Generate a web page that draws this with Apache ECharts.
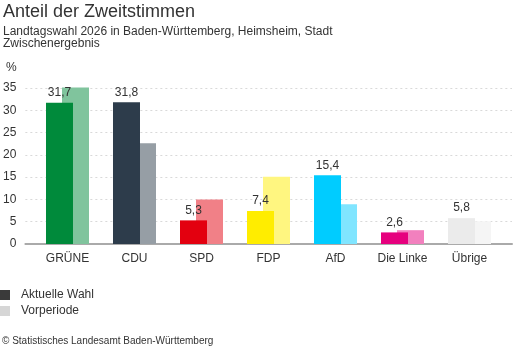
<!DOCTYPE html>
<html><head><meta charset="utf-8">
<script src="https://cdn.jsdelivr.net/npm/echarts@6/dist/echarts.min.js"></script>
<style>html,body{margin:0;padding:0;background:#fff}#c{width:513px;height:352px}</style>
</head><body><div id="c"></div>
<script>
const categories = ['GRÜNE','CDU','SPD','FDP','AfD','Die Linke','Übrige'];
const currentValues = [31.7, 31.8, 5.3, 7.4, 15.4, 2.6, 5.8];
const previousValues = [35.1, 22.6, 10.0, 15.1, 8.9, 3.1, 5.1];
const currentColors = ['#008a3b','#2d3c4b','#e3000f','#ffed00','#00ccff','#e6007e','#ebebeb'];
const previousColors = ['#80c49d','#969ea5','#f18087','#fff680','#80e5ff','#f280be','#f5f5f5'];
const yTicks = [0,5,10,15,20,25,30,35];

const FONT = 'Liberation Sans, Arial, sans-serif';
const chart = echarts.init(document.getElementById('c'), null, {renderer:'canvas'});
const fmt = v => String(v).replace('.', ',');

chart.setOption({
  animation:false,
  textStyle:{fontFamily:FONT},
  title:[
    {text:'Anteil der Zweitstimmen', left:1, top:1, padding:[2,2,2,2], textStyle:{fontSize:18, fontWeight:'normal', color:'#333', fontFamily:FONT}},
    {text:'Landtagswahl 2026 in Baden-Württemberg, Heimsheim, Stadt\nZwischenergebnis', left:1, top:24, padding:[2,2,2,2],
     textStyle:{fontSize:12, fontWeight:'normal', color:'#333', lineHeight:12, fontFamily:FONT}},
    {text:'%', left:4, top:60, padding:[2,2,2,2], textStyle:{fontSize:12, fontWeight:'normal', color:'#333', fontFamily:FONT}},
    {text:'© Statistisches Landesamt Baden-Württemberg', left:0, top:334, padding:[2,2,2,2], textStyle:{fontSize:10, fontWeight:'normal', color:'#333', fontFamily:FONT}}
  ],
  legend:{
    orient:'vertical', left:0, top:289, padding:0, itemWidth:10, itemHeight:10, itemGap:4,
    icon:'rect',
    textStyle:{fontSize:12, color:'#333', fontFamily:FONT, padding:[0,0,0,6]},
    data:[{name:'Aktuelle Wahl', itemStyle:{color:'#3a3a3a'}},{name:'Vorperiode', itemStyle:{color:'#d6d6d6'}}]
  },
  grid:[
    {left:23, right:1, top:88, bottom:108},
    {left:34, right:10, top:88, bottom:108}
  ],
  xAxis:[
    {type:'category', gridIndex:0, data:[''], axisLine:{show:true, lineStyle:{color:'#aaaaaa', width:2}}, axisTick:{show:false}, axisLabel:{show:false}},
    {type:'category', gridIndex:1, data:categories, axisLine:{show:false}, axisTick:{show:false},
     axisLabel:{fontSize:12, color:'#333', margin:9, fontFamily:FONT}}
  ],
  yAxis:[
    {type:'value', gridIndex:0, min:yTicks[0], max:yTicks[yTicks.length-1], interval:5,
     axisLine:{show:false}, axisTick:{show:false},
     axisLabel:{fontSize:12, color:'#333', margin:9, fontFamily:FONT},
     splitLine:{show:true, lineStyle:{color:'#d9d9d9', type:[2,3], width:1}}},
    {type:'value', gridIndex:1, min:0, max:35, interval:5, show:false, splitLine:{show:false}}
  ],
  series:[
    {name:'Aktuelle Wahl', type:'bar', xAxisIndex:1, yAxisIndex:1, barWidth:27, barGap:'-40.74%', z:3, clip:false,
     data: currentValues.map((v,i)=>({value:v, itemStyle:{color:currentColors[i]}})),
     itemStyle:{color:'#3a3a3a'},
     label:{show:true, position:'top', distance:4, fontSize:12, color:'#333', fontFamily:FONT, formatter:p=>fmt(p.value)}},
    {name:'Vorperiode', type:'bar', xAxisIndex:1, yAxisIndex:1, barWidth:27, barGap:'-40.74%', z:2, clip:false,
     data: previousValues.map((v,i)=>({value:v, itemStyle:{color:previousColors[i]}})),
     itemStyle:{color:'#d6d6d6'}}
  ]
});
</script></body></html>
